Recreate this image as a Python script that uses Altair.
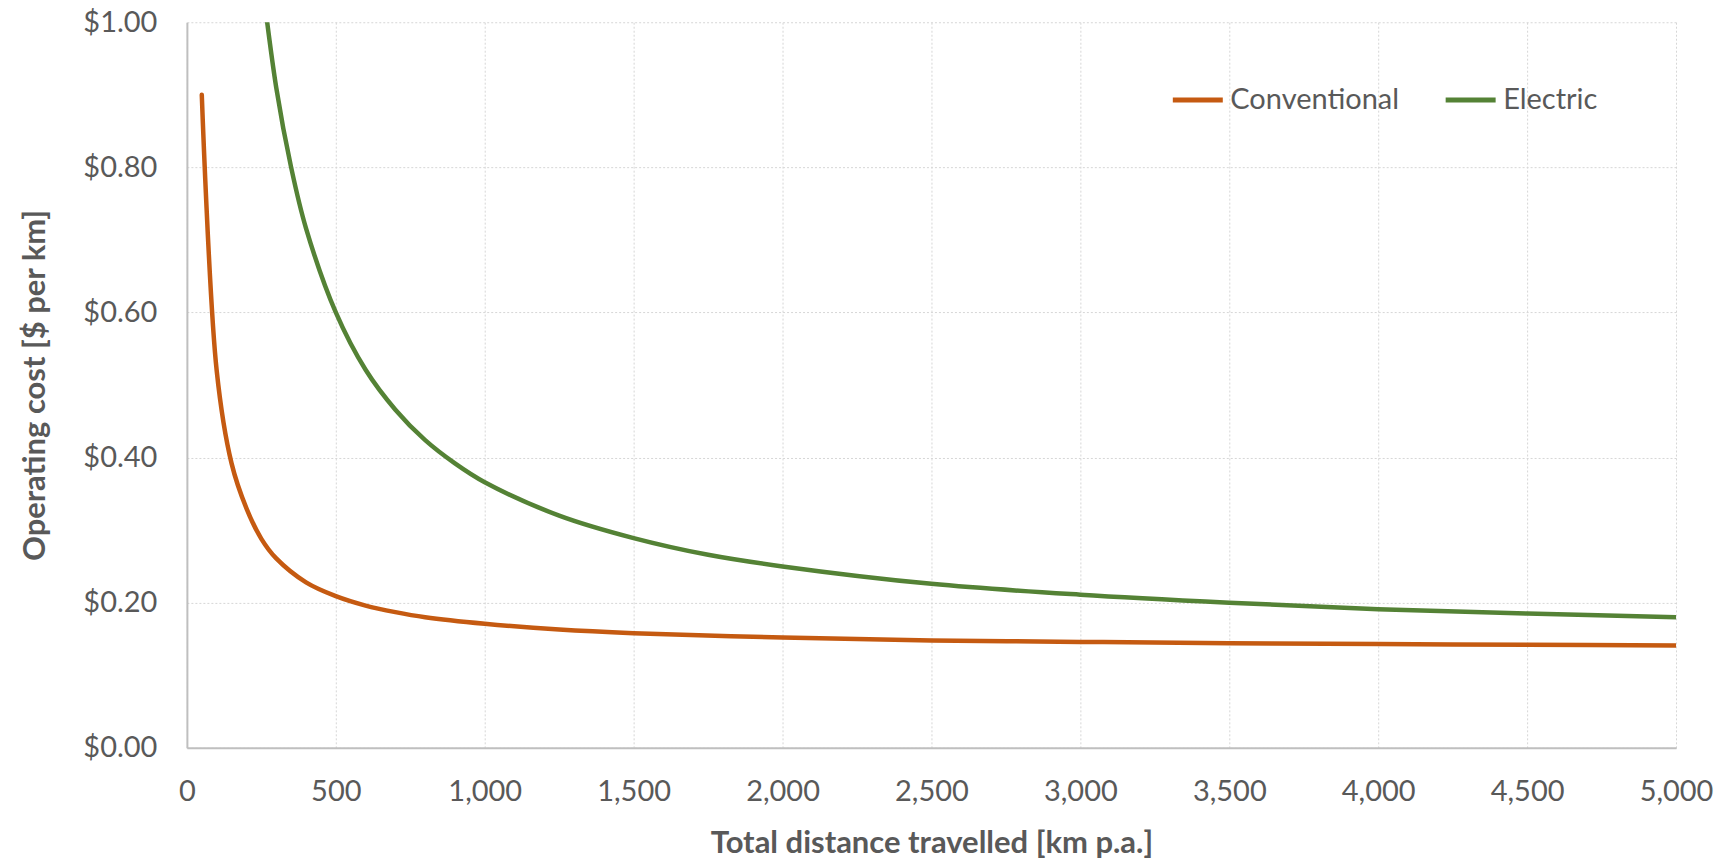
import altair as alt
import pandas as pd

# Conventional vehicle operating cost [$ per km]
conv_km = [50, 100, 150, 200, 250, 300, 400, 500, 600, 700, 800, 1000,
           1250, 1500, 2000, 2500, 3000, 3500, 4000, 4500, 5000]
conv_cost = [0.90, 0.52, 0.392, 0.33, 0.288, 0.261, 0.228, 0.209, 0.196,
             0.187, 0.180, 0.171, 0.163, 0.158, 0.152, 0.148, 0.146, 0.144, 0.143,
             0.142, 0.141]

# Electric vehicle operating cost [$ per km]
elec_km = [250, 300, 350, 400, 500, 600, 700, 800, 900, 1000, 1250, 1500, 1750,
           2000, 2500, 3000, 3500, 4000, 4500, 5000]
elec_cost = [1.065, 0.91, 0.80, 0.716, 0.60, 0.521, 0.466, 0.424, 0.392, 0.366, 0.32,
             0.289, 0.266, 0.25, 0.226, 0.211, 0.20, 0.191, 0.185, 0.180]

series_names = ["Conventional", "Electric"]
series_colors = ["#C55A11", "#548235"]
x_ticks = [0, 500, 1000, 1500, 2000, 2500, 3000, 3500, 4000, 4500, 5000]
y_ticks = [0.0, 0.2, 0.4, 0.6, 0.8, 1.0]

df = pd.concat([
    pd.DataFrame({"km": conv_km, "cost": conv_cost, "series": series_names[0]}),
    pd.DataFrame({"km": elec_km, "cost": elec_cost, "series": series_names[1]}),
])

FONT = "Lato"
GREY = "#595959"

chart = alt.Chart(df).mark_line(
    strokeWidth=4.5, interpolate="catmull-rom", clip=True, strokeCap="round"
).encode(
    x=alt.X("km:Q",
            scale=alt.Scale(domain=[0, 5000], nice=False, zero=True),
            axis=alt.Axis(values=x_ticks, format=",.0f",
                          title="Total distance travelled [km p.a.]",
                          labelFontSize=29, labelPadding=30, titlePadding=22,
                          labelFlush=False, labelOverlap=False, labelBound=False,
                          tickSize=0)),
    y=alt.Y("cost:Q",
            scale=alt.Scale(domain=[0, 1], nice=False),
            axis=alt.Axis(values=y_ticks, labelExpr="'$' + format(datum.value, '.2f')",
                          title="Operating cost [$ per km]",
                          labelFontSize=29, labelPadding=30, titlePadding=31,
                          labelFlush=False, labelOverlap=False,
                          tickSize=0)),
    color=alt.Color("series:N",
                    scale=alt.Scale(domain=series_names, range=series_colors),
                    legend=alt.Legend(title=None, orient="none", direction="horizontal",
                                      legendX=984, legendY=50,
                                      symbolType="stroke", symbolSize=2500,
                                      symbolStrokeWidth=5, labelFontSize=29,
                                      labelColor=GREY, labelFont=FONT, labelLimit=0,
                                      labelOffset=5, columnPadding=36)),
).properties(
    width=1490, height=726,
    padding={"left": 187, "top": 22, "right": 48, "bottom": 112},
    autosize=alt.AutoSizeParams(type="none"),
    background="white",
).configure_view(
    stroke=None
).configure_axis(
    labelFont=FONT, titleFont=FONT, labelColor=GREY, titleColor=GREY,
    titleFontSize=31, titleFontWeight="bold",
    gridColor="#D6D6D6", gridDash=[2, 2], gridWidth=1,
    domainColor="#BFBFBF", domainWidth=2,
)

chart.save("out.html", embed_options={"renderer": "svg", "actions": False})
